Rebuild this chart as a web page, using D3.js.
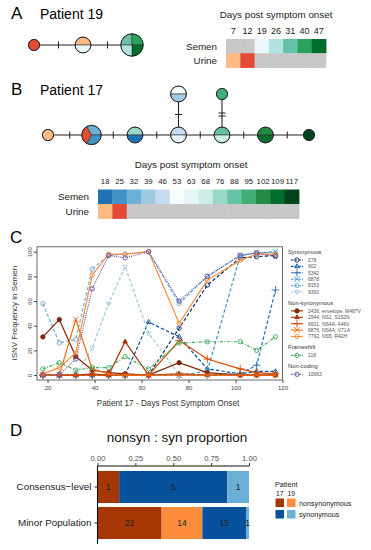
<!DOCTYPE html>
<meta charset="utf-8">
<script src="https://d3js.org/d3.v7.min.js"></script>
<style>
  body { margin: 0; background: white; }
  svg { font-family: "Liberation Sans", Arial, sans-serif; }
</style>
<div id="chart"></div>
<script>
// ---- data ----
// panel A / B: sampling days and which samples were sequenced
var p19Days  = [7, 12, 19, 26, 31, 40, 47];
var p19Semen = [0, 0, 1, 1, 1, 1, 1];
var p19Urine = [1, 1, 0, 0, 0, 0, 0];
var p17Days  = [18, 25, 32, 39, 46, 53, 63, 68, 76, 88, 95, 102, 109, 117];
var p17Semen = [1, 1, 1, 1, 1, 1, 1, 1, 1, 1, 1, 1, 1, 1];
var p17Urine = [1, 1, 0, 0, 0, 0, 0, 0, 0, 0, 0, 0, 0, 0];

// haplotype networks: samples in each node, mutations on each edge
var p19Nodes = [["U12"], ["U7", "S19"], ["S31", "S40", "S47", "S26"]];
var p19Muts  = [1, 1];
var p17Nodes = [["U18"], ["S32", "S25", "U25"], ["S76", "S18"], ["S46", "S63"],
                ["S88", "S68"], ["S102", "S109"], ["S117"]];
var p17Muts  = [1, 1, 1, 1, 1, 1];
var p17Branches = [{parent: 3, samples: ["S53", "S39"], muts: 1},
                   {parent: 4, samples: ["S95"], muts: 2}];

// panel C: iSNV frequency (%) in semen
var cDays = [18, 25, 32, 39, 46, 53, 63, 76, 88, 102, 109, 117];
var syn278  = [0, 0, 0, 0, 0, 0, 0, 38, 73, 95, 96, 97];
var syn902  = [0, 0, 0, 0, 0, 0, 43, 31, 5, 1, 3, 3];
var syn5342 = [0, 0, 0, 0, 0, 0, 0, 0, 0, 1, 8, 69];
var syn6878 = [0, 0, 0, 0, 0, 0, 0, 0, 3, 97, 99, 100];
var syn8153 = [58, 26, 29, 86, 97, 98, 100, 58, 80, 97, 99, 99];
var syn9392 = [0, 0, 0, 22, 58, 88, 34, 0, 0, 0, 0, 0];
var non2436 = [31, 45, 15, 4, 2, 1, 0, 10, 2, 0, 0, 0];
var non2944 = [0, 0, 0, 1, 0, 27, 0, 1, 0, 0, 0, 0];
var non6601 = [0, 0, 0, 0, 0, 0, 0, 28, 13, 5, 2, 1];
var non6876 = [0, 0, 45, 5, 1, 0, 0, 0, 0, 0, 0, 0];
var non7792 = [1, 6, 18, 81, 98, 98, 100, 42, 77, 93, 98, 98];
var fs118   = [5, 10, 4, 6, 6, 15, 5, 26, 27, 27, 20, 31];
var nc10663 = [0, 0, 13, 70, 97, 95, 100, 60, 80, 97, 99, 96];
var cYTicks = [0, 20, 40, 60, 80, 100];
var cXTicks = [20, 40, 60, 80, 100, 120];

// panel D: counts
var dCategories = ["Consensus\u2212level", "Minor Population"];
var dGroups = ["17 nonsyn", "19 nonsyn", "17 syn", "19 syn"];
var dConsensus = [1, 0, 5, 1];
var dMinor = [22, 14, 15, 1];
var dTicks = [0, 0.25, 0.5, 0.75, 1];

// ---- drawing ----
var GRAY = "#c8c8c8";
var URINE_PAL = ["#fdbb84", "#e34a33"];
var svg = d3.select("#chart").append("svg").attr("width", 371).attr("height", 550);

function sampleColors(days, semen, urine, semenPal) {
  var c = {}, si = 0, ui = 0;
  days.forEach(function(d, i) {
    c["S" + d] = semen[i] ? semenPal[si++] : GRAY;
    c["U" + d] = urine[i] ? URINE_PAL[ui++] : GRAY;
  });
  return c;
}
var p19Col = sampleColors(p19Days, p19Semen, p19Urine, d3.schemeBuGn[5]);
var p17Col = sampleColors(p17Days, p17Semen, p17Urine,
  d3.schemeBlues[9].slice(2, 7).reverse().concat(d3.schemeBuGn[9]));

function panelLetter(t, x, y) {
  svg.append("text").attr("x", x).attr("y", y).style("font-size", "17px").text(t);
}

function heatmap(days, colors, o) {
  var x = d3.scaleBand().domain(days).range([o.x0, o.x1]);
  var y = d3.scaleBand().domain(["S", "U"]).range([o.y0, o.y1]);
  var g = svg.append("g");
  g.append("text").attr("x", o.titleX).attr("y", o.titleY).attr("text-anchor", "middle")
    .style("font-size", "9.8px").attr("fill", "#222").text("Days post symptom onset");
  g.selectAll(".day").data(days).join("text")
    .attr("x", function(d) { return x(d) + x.bandwidth() / 2; })
    .attr("y", o.dayY).attr("text-anchor", "middle")
    .style("font-size", o.dayFont).attr("fill", "#222").text(function(d) { return d; });
  ["S", "U"].forEach(function(r) {
    g.selectAll(".c" + r).data(days).join("rect")
      .attr("x", function(d) { return x(d); }).attr("y", y(r))
      .attr("width", x.bandwidth() + 0.4).attr("height", y.bandwidth() + 0.4)
      .attr("fill", function(d) { return colors[r + d]; });
  });
  g.selectAll(".lab").data([["S", "Semen"], ["U", "Urine"]]).join("text")
    .attr("x", o.labX).attr("y", function(d) { return y(d[0]) + y.bandwidth() / 2 + 3.5; })
    .attr("text-anchor", "end").style("font-size", "9.8px").attr("fill", "#222")
    .text(function(d) { return d[1]; });
}

var rScale = d3.scaleSqrt().domain([0, 4]).range([0, 11.2]);
function drawNode(g, cx, cy, samples, colors) {
  var r = rScale(samples.length);
  var start = samples.length === 3 ? -Math.PI / 6 : -Math.PI / 2;
  var pie = d3.pie().sort(null).value(1).startAngle(start).endAngle(start + 2 * Math.PI);
  var arc = d3.arc().innerRadius(0).outerRadius(r);
  var ng = g.append("g").attr("transform", "translate(" + cx + "," + cy + ")");
  ng.selectAll("path").data(pie(samples)).join("path")
    .attr("d", arc).attr("fill", function(d) { return colors[d.data]; })
    .attr("stroke", "#333").attr("stroke-width", 0.6);
  ng.append("circle").attr("r", r).attr("fill", "none").attr("stroke", "#222").attr("stroke-width", 0.9);
}

function network(nodes, muts, branches, colors, o) {
  var x = d3.scalePoint().domain(d3.range(nodes.length)).range([o.x0, o.x1]);
  var g = svg.append("g");
  g.append("line").attr("x1", x(0)).attr("x2", x(nodes.length - 1))
    .attr("y1", o.y).attr("y2", o.y).attr("stroke", "#222").attr("stroke-width", 1.1);
  muts.forEach(function(m, i) {
    var mid = (x(i) + x(i + 1)) / 2;
    d3.range(m).forEach(function(k) {
      var t = mid + (k - (m - 1) / 2) * 3;
      g.append("line").attr("x1", t).attr("x2", t).attr("y1", o.y - 3.5).attr("y2", o.y + 3.5)
        .attr("stroke", "#222").attr("stroke-width", 1);
    });
  });
  branches.forEach(function(b) {
    var bx = x(b.parent), by = o.y - o.branch;
    g.append("line").attr("x1", bx).attr("x2", bx).attr("y1", o.y).attr("y2", by)
      .attr("stroke", "#222").attr("stroke-width", 1.1);
    var mid = (o.y + by) / 2;
    d3.range(b.muts).forEach(function(k) {
      var t = mid + (k - (b.muts - 1) / 2) * 3;
      g.append("line").attr("x1", bx - 3.5).attr("x2", bx + 3.5).attr("y1", t).attr("y2", t)
        .attr("stroke", "#222").attr("stroke-width", 1);
    });
  });
  nodes.forEach(function(s, i) { drawNode(g, x(i), o.y, s, colors); });
  branches.forEach(function(b) { drawNode(g, x(b.parent), o.y - o.branch, b.samples, colors); });
}

// Panel A
panelLetter("A", 11, 19);
svg.append("text").attr("x", 40).attr("y", 18.5).style("font-size", "14px").text("Patient 19");
network(p19Nodes, p19Muts, [], p19Col, {x0: 34, x1: 132, y: 45});
heatmap(p19Days, p19Col, {x0: 226, x1: 326, y0: 39, y1: 67.5, titleX: 276, titleY: 17.5,
  dayY: 33.5, dayFont: "9px", labX: 217});

// Panel B
panelLetter("B", 11, 95);
svg.append("text").attr("x", 40).attr("y", 95).style("font-size", "14px").text("Patient 17");
network(p17Nodes, p17Muts, p17Branches, p17Col, {x0: 48, x1: 309, y: 135, branch: 41});
heatmap(p17Days, p17Col, {x0: 98, x1: 299, y0: 189.5, y1: 218.5, titleX: 191, titleY: 167.5,
  dayY: 184, dayFont: "7.8px", labX: 89});

// Panel C
panelLetter("C", 10, 243);
var cx = d3.scaleLinear().domain([15.5, 120]).range([37, 282.5]);
var cy = d3.scaleLinear().domain([-4, 104]).range([380, 246.8]);
var C = svg.append("g");
C.append("rect").attr("x", 37).attr("y", 246.8).attr("width", 245.5).attr("height", 133.2)
  .attr("fill", "none").attr("stroke", "#444").attr("stroke-width", 0.8);
var xa = C.append("g").attr("transform", "translate(0,380)")
  .call(d3.axisBottom(cx).tickValues(cXTicks).tickSize(3).tickPadding(2.5));
xa.select(".domain").remove();
xa.selectAll("text").style("font-size", "6px").attr("fill", "#444");
xa.selectAll("line").attr("stroke", "#444");
var ya = C.append("g").attr("transform", "translate(37,0)")
  .call(d3.axisLeft(cy).tickValues(cYTicks).tickSize(3));
ya.select(".domain").remove();
ya.selectAll("line").attr("stroke", "#444");
ya.selectAll("text").attr("x", 0).attr("dy", null).attr("text-anchor", "middle")
  .attr("transform", "translate(-5,0) rotate(-90)").style("font-size", "6px").attr("fill", "#444");
C.append("text").attr("x", 168).attr("y", 405.5).attr("text-anchor", "middle")
  .style("font-size", "8.2px").attr("fill", "#333").text("Patient 17 - Days Post Symptom Onset");
C.append("text").attr("transform", "translate(17,313) rotate(-90)").attr("text-anchor", "middle")
  .style("font-size", "8px").attr("fill", "#333").text("iSNV Frequency in Semen");

var DASH = "3.5,2", SOLID = null, DOTDASH = "3,1.5,1,1.5", DOT = "1,1.2";
var cGroups = [
  {title: "Synonymous", items: [
    {id: "278", v: syn278, c: "#08306b", d: DASH, s: "circle"},
    {id: "902", v: syn902, c: "#08519c", d: DASH, s: "tri"},
    {id: "5342", v: syn5342, c: "#2171b5", d: DASH, s: "plus"},
    {id: "6878", v: syn6878, c: "#4292c6", d: DASH, s: "times"},
    {id: "8153", v: syn8153, c: "#6baed6", d: DASH, s: "circle"},
    {id: "9392", v: syn9392, c: "#9ecae1", d: DASH, s: "trid"}]},
  {title: "Non-synonymous", items: [
    {id: "2436, envelope, M487V", v: non2436, c: "#7f2704", d: SOLID, s: "dot"},
    {id: "2944, NS1, S152N", v: non2944, c: "#a63603", d: SOLID, s: "tri"},
    {id: "6601, NS4A, A46V", v: non6601, c: "#d94801", d: SOLID, s: "plus"},
    {id: "6876, NS4A, V71A", v: non6876, c: "#f16913", d: SOLID, s: "times"},
    {id: "7792, NS5, R42H", v: non7792, c: "#fd8d3c", d: SOLID, s: "circle"}]},
  {title: "Frameshift", items: [{id: "118", v: fs118, c: "#41ab5d", d: DOTDASH, s: "circle"}]},
  {title: "Non-coding", items: [{id: "10663", v: nc10663, c: "#6a51a3", d: DOT, s: "circle"}]}
];
var symType = {circle: d3.symbolCircle, dot: d3.symbolCircle, tri: d3.symbolTriangle2,
  trid: d3.symbolTriangle2, plus: d3.symbolPlus, times: d3.symbolTimes};
function marker(sel, it) {
  sel.attr("d", d3.symbol().type(symType[it.s]).size(it.s === "plus" || it.s === "times" ? 22 : 15))
    .attr("fill", it.s === "dot" || it.s === "tri" && it.d === SOLID ? it.c : "none")
    .attr("stroke", it.c).attr("stroke-width", 0.9);
}
var line = d3.line().x(function(d, i) { return cx(cDays[i]); }).y(function(d) { return cy(d); });
cGroups.forEach(function(grp) {
  grp.items.forEach(function(it) {
    C.append("path").attr("d", line(it.v)).attr("fill", "none").attr("stroke", it.c)
      .attr("stroke-width", 1.2).attr("stroke-dasharray", it.d);
    C.selectAll(null).data(it.v).join("path")
      .attr("transform", function(d, i) {
        return "translate(" + cx(cDays[i]) + "," + cy(d) + ")" + (it.s === "trid" ? " rotate(180)" : "");
      })
      .call(marker, it);
  });
});

// legend C
var ly = 252;
cGroups.forEach(function(g, gi) {
  C.append("text").attr("x", 288).attr("y", ly + 2).style("font-size", "5.8px").attr("fill", "#333").text(g.title);
  ly += 8;
  g.items.forEach(function(it) {
    C.append("line").attr("x1", 291).attr("x2", 303).attr("y1", ly).attr("y2", ly)
      .attr("stroke", it.c).attr("stroke-width", 1.1).attr("stroke-dasharray", it.d ? "2.5,1.2" : null);
    C.append("path").attr("transform", "translate(297," + ly + ")" + (it.s === "trid" ? " rotate(180)" : "")).call(marker, it);
    C.append("text").attr("x", 308).attr("y", ly + 1.8).style("font-size", "5px").attr("fill", "#555").text(it.id);
    ly += 6.4;
  });
  ly += 4.5;
});

// Panel D
panelLetter("D", 10, 436);
var D = svg.append("g");
D.append("text").attr("x", 177).attr("y", 442).attr("text-anchor", "middle")
  .style("font-size", "13.5px").attr("fill", "#111").text("nonsyn : syn proportion");
var dx = d3.scaleLinear().domain([0, 1]).range([97.5, 249]);
var dy = d3.scaleBand().domain(dCategories).range([469, 541]).paddingInner(0.11).paddingOuter(0.055);
var dColor = d3.scaleOrdinal().domain(dGroups).range(["#a63603", "#fd8d3c", "#08519c", "#6baed6"]);
var dRows = [dConsensus, dMinor].map(function(v, i) {
  var o = {cat: dCategories[i]};
  dGroups.forEach(function(g, j) { o[g] = v[j]; });
  return o;
});
var stacked = d3.stack().keys(dGroups).offset(d3.stackOffsetExpand)(dRows);
stacked.forEach(function(layer) {
  D.selectAll(null).data(layer).join("rect")
    .attr("x", function(d) { return dx(d[0]); })
    .attr("y", function(d) { return dy(d.data.cat); })
    .attr("width", function(d) { return dx(d[1]) - dx(d[0]); })
    .attr("height", dy.bandwidth())
    .attr("fill", dColor(layer.key));
  D.selectAll(null).data(layer.filter(function(d) { return d.data[layer.key] > 0; })).join("text")
    .attr("x", function(d) { return (dx(d[0]) + dx(d[1])) / 2; })
    .attr("y", function(d) { return dy(d.data.cat) + dy.bandwidth() / 2 + 3; })
    .attr("text-anchor", "middle").style("font-size", "8.5px").attr("fill", "#222")
    .text(function(d) { return d.data[layer.key]; });
});
var dxa = D.append("g").attr("transform", "translate(0,466)")
  .call(d3.axisTop(dx).tickValues(dTicks).tickFormat(d3.format(".2f")).tickSize(3).tickPadding(2.5));
dxa.select(".domain").attr("stroke", "#111").attr("stroke-width", 1.1).attr("d", "M97.5,0H249");
dxa.selectAll("text").style("font-size", "7.6px").attr("fill", "#4d4d4d");
dxa.selectAll("line").attr("stroke", "#333");
var dya = D.append("g").attr("transform", "translate(97.5,0)")
  .call(d3.axisLeft(dy).tickSize(3).tickPadding(3));
dya.select(".domain").attr("stroke", "#111").attr("stroke-width", 1.1).attr("d", "M0,466V544");
dya.selectAll("text").style("font-size", "9.8px").attr("fill", "#222");
dya.selectAll("line").attr("stroke", "#333");

// legend D
D.append("text").attr("x", 275).attr("y", 487).style("font-size", "7.2px").attr("fill", "#222").text("Patient");
D.selectAll(null).data(["17", "19"]).join("text")
  .attr("x", function(d, i) { return 276 + i * 11.5; }).attr("y", 495.5)
  .style("font-size", "6.8px").attr("fill", "#222").text(function(d) { return d; });
D.selectAll(null).data(dGroups).join("rect")
  .attr("x", function(d, i) { return 275.5 + (i % 2) * 11.5; })
  .attr("y", function(d, i) { return 498.5 + Math.floor(i / 2) * 11.5; })
  .attr("width", 8.5).attr("height", 8.5).attr("fill", function(d) { return dColor(d); });
D.selectAll(null).data(["nonsynonymous", "synonymous"]).join("text")
  .attr("x", 299).attr("y", function(d, i) { return 505.5 + i * 11.5; })
  .style("font-size", "7.2px").attr("fill", "#222").text(function(d) { return d; });
</script>
